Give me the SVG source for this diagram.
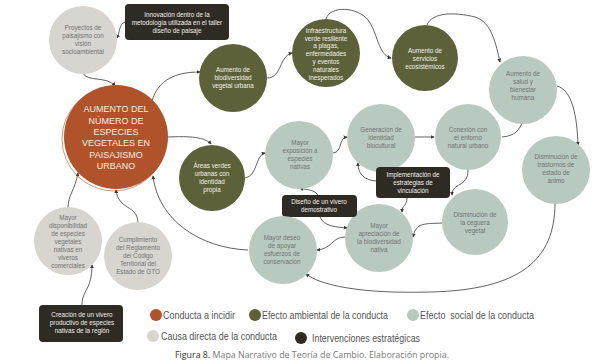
<svg xmlns="http://www.w3.org/2000/svg" width="602" height="364" viewBox="0 0 602 364">
<defs>
<marker id="ah" viewBox="0 0 6 6" refX="5" refY="3" markerWidth="4" markerHeight="4" markerUnits="userSpaceOnUse" orient="auto">
<path d="M0,0 L6,3 L0,6 Z" fill="#3a3a3a"/>
</marker>
<style>
.bg{fill:#ffffff}
.orange{fill:#B0532A}
.olive{fill:#5C6139}
.sage{fill:#B8CAC0}
.gray{fill:#D8D5D0}
.dark{fill:#2E2B24}
.t{font-family:"Liberation Sans",Arial,sans-serif;font-size:6.3px;text-anchor:middle}
.tg{fill:#727272}
.tw{fill:#F2F0E8}
.main{font-family:"Liberation Sans",Arial,sans-serif;font-size:9px;text-anchor:middle;fill:#F7EBE0}
.conn path{fill:none;stroke:#3a3a3a;stroke-width:0.8;marker-end:url(#ah)}
.leg{font-family:"Liberation Sans",Arial,sans-serif;font-size:10px;fill:#555555;white-space:pre}
.cap{font-family:"Open Sans","Liberation Sans",sans-serif;font-size:9px;fill:#7a7a7a}
</style>
</defs>
<rect class="bg" x="0" y="0" width="602" height="364"/>

<g id="connectors" class="conn">
<path d="M125,22 C119,24 120,32 117,38"/>
<path d="M83,73 C86,82 108,76 115,86"/>
<path d="M152,101 C158,80 175,72 200,72"/>
<path d="M267,78 C282,78 279,56 292,53"/>
<path d="M326,19 C330,5 358,7 368,20 C378,33 378,55 391,58"/>
<path d="M427,25 C432,12 455,12 475,17 C492,22 496,45 500,62"/>
<path d="M557,86 C572,90 577,115 578,145"/>
<path d="M555,203 C555,260 520,290 430,292 C360,294 320,285 306,274"/>
<path d="M168,137 C190,136 205,137 211,144"/>
<path d="M245,178 C258,176 255,155 265,153"/>
<path d="M333,153 C343,152 338,138 347,137"/>
<path d="M415,137 L434,137"/>
<path d="M502,137 C515,136 520,130 523,120"/>
<path d="M468,170 C468,188 452,182 452,195"/>
<path d="M442,223 C425,224 416,222 413,237"/>
<path d="M376,181 C365,180 358,175 358,163"/>
<path d="M407,198 C407,206 402,205 402,212"/>
<path d="M318,195 C314,189 305,190 300,188"/>
<path d="M320,217 C324,227 338,227 347,228"/>
<path d="M345,237 C332,237 332,249 317,250"/>
<path d="M248,250 C200,248 158,220 153,176"/>
<path d="M68,208 C68,195 75,190 78,173"/>
<path d="M138,223 C138,205 118,210 116,190"/>
<path d="M82,305 C82,290 92,290 92,265"/>
</g>

<g id="n-proyectos">
<circle class="gray" cx="83" cy="40" r="34"/>
<text class="t tg" x="83"><tspan x="83" y="30">Proyectos de</tspan><tspan x="83" y="38">paisajismo con</tspan><tspan x="83" y="46">visión</tspan><tspan x="83" y="54">socioambiental</tspan></text>
</g>

<g id="n-innovacion">
<rect class="dark" x="125" y="4" width="104" height="36" rx="4"/>
<text class="t tw"><tspan x="177" y="17.3">Innovación dentro de la</tspan><tspan x="177" y="25">metodología utilizada en el taller</tspan><tspan x="177" y="33">diseño de paisaje</tspan></text>
</g>

<g id="n-main">
<circle class="orange" cx="116" cy="137" r="52"/>
<circle cx="114" cy="139" r="52" fill="none" stroke="#B0532A" stroke-width="0.6"/>
<text class="main"><tspan x="116" y="112.2">AUMENTO DEL</tspan><tspan x="116" y="123.6">NÚMERO DE</tspan><tspan x="116" y="135">ESPECIES</tspan><tspan x="116" y="146.4">VEGETALES EN</tspan><tspan x="116" y="157.8">PAISAJISMO</tspan><tspan x="116" y="169.2">URBANO</tspan></text>
</g>

<g id="n-biodiversidad">
<circle class="olive" cx="233" cy="78" r="34"/>
<text class="t tw"><tspan x="233" y="72.3">Aumento de</tspan><tspan x="233" y="80.3">biodiversidad</tspan><tspan x="233" y="88.3">vegetal urbana</tspan></text>
</g>

<g id="n-infraestructura">
<circle class="olive" cx="326" cy="53" r="34"/>
<text class="t tw"><tspan x="326" y="32.8">Infraestructura</tspan><tspan x="326" y="40.6">verde resiliente</tspan><tspan x="326" y="48.4">a plagas,</tspan><tspan x="326" y="56.2">enfermedades</tspan><tspan x="326" y="64">y eventos</tspan><tspan x="326" y="71.8">naturales</tspan><tspan x="326" y="79.6">inesperados</tspan></text>
</g>

<g id="n-servicios">
<circle class="olive" cx="425" cy="58" r="33"/>
<text class="t tw"><tspan x="425" y="53">Aumento de</tspan><tspan x="425" y="61">servicios</tspan><tspan x="425" y="69">ecosistémicos</tspan></text>
</g>

<g id="n-salud">
<circle class="sage" cx="523" cy="90" r="34"/>
<text class="t tg"><tspan x="523" y="76">Aumento de</tspan><tspan x="523" y="84">salud y</tspan><tspan x="523" y="92">bienestar</tspan><tspan x="523" y="100">humana</tspan></text>
</g>

<g id="n-trastornos">
<circle class="sage" cx="556" cy="170" r="34"/>
<text class="t tg"><tspan x="556" y="159">Disminución de</tspan><tspan x="556" y="167">trastornos de</tspan><tspan x="556" y="175">estado de</tspan><tspan x="556" y="183">ánimo</tspan></text>
</g>

<g id="n-areas">
<circle class="olive" cx="212" cy="178" r="33"/>
<text class="t tw"><tspan x="212" y="168.3">Áreas verdes</tspan><tspan x="212" y="176.3">urbanas con</tspan><tspan x="212" y="184.3">identidad</tspan><tspan x="212" y="192.3">propia</tspan></text>
</g>

<g id="n-exposicion">
<circle class="sage" cx="299" cy="155" r="34"/>
<text class="t tg"><tspan x="300" y="145">Mayor</tspan><tspan x="300" y="153">exposición a</tspan><tspan x="300" y="161">especies</tspan><tspan x="300" y="169">nativas</tspan></text>
</g>

<g id="n-generacion">
<circle class="sage" cx="381" cy="138" r="34"/>
<text class="t tg"><tspan x="381" y="131.5">Generación de</tspan><tspan x="381" y="139.5">identidad</tspan><tspan x="381" y="147.5">biocultural</tspan></text>
</g>

<g id="n-conexion">
<circle class="sage" cx="468" cy="137" r="33"/>
<text class="t tg"><tspan x="468" y="131.5">Conexión con</tspan><tspan x="468" y="139.5">el entorno</tspan><tspan x="468" y="147.5">natural urbano</tspan></text>
</g>

<g id="n-implementacion">
<rect class="dark" x="376" y="167" width="74" height="31" rx="4"/>
<text class="t tw"><tspan x="413" y="176.5">Implementación de</tspan><tspan x="413" y="184.5">estrategias de</tspan><tspan x="413" y="192.5">vinculación</tspan></text>
</g>

<g id="n-ceguera">
<circle class="sage" cx="475" cy="222" r="33"/>
<text class="t tg"><tspan x="475" y="217.3">Disminución de</tspan><tspan x="475" y="225.3">la ceguera</tspan><tspan x="475" y="233.3">vegetal</tspan></text>
</g>

<g id="n-apreciacion">
<circle class="sage" cx="379" cy="238" r="34"/>
<text class="t tg"><tspan x="379" y="228.3">Mayor</tspan><tspan x="379" y="236.3">apreciación de</tspan><tspan x="379" y="244.3">la biodiversidad</tspan><tspan x="379" y="252.3">nativa</tspan></text>
</g>

<g id="n-diseno">
<rect class="dark" x="282" y="195" width="75" height="22" rx="4"/>
<text class="t tw"><tspan x="319" y="204">Diseño de un vivero</tspan><tspan x="319" y="212.3">demostrativo</tspan></text>
</g>

<g id="n-deseo">
<circle class="sage" cx="283" cy="250" r="34"/>
<text class="t tg"><tspan x="282" y="239.6">Mayor deseo</tspan><tspan x="282" y="247.8">de apoyar</tspan><tspan x="282" y="256">esfuerzos de</tspan><tspan x="282" y="264.2">conservación</tspan></text>
</g>

<g id="n-disponibilidad">
<circle class="gray" cx="68" cy="241" r="34"/>
<text class="t tg"><tspan x="68" y="219.6">Mayor</tspan><tspan x="68" y="227.6">disponibilidad</tspan><tspan x="68" y="235.6">de especies</tspan><tspan x="68" y="243.6">vegetales</tspan><tspan x="68" y="251.6">nativas en</tspan><tspan x="68" y="259.6">viveros</tspan><tspan x="68" y="267.6">comerciales</tspan></text>
</g>

<g id="n-cumplimiento">
<circle class="gray" cx="138" cy="256" r="34"/>
<text class="t tg"><tspan x="138" y="242.3">Cumplimiento</tspan><tspan x="138" y="250.3">del Reglamento</tspan><tspan x="138" y="258.3">del Código</tspan><tspan x="138" y="266.3">Territorial del</tspan><tspan x="138" y="274.3">Estado de GTO</tspan></text>
</g>

<g id="n-creacion">
<rect class="dark" x="39" y="305" width="84" height="37" rx="4"/>
<text class="t tw"><tspan x="82" y="317.3">Creación de un vivero</tspan><tspan x="82" y="325">productivo de especies</tspan><tspan x="82" y="333">nativas de la región</tspan></text>
</g>

<g id="legend">
<circle class="orange" cx="156" cy="315" r="6"/>
<text class="leg" x="163" y="318.5" textLength="72" lengthAdjust="spacingAndGlyphs">Conducta a incidir</text>
<circle class="olive" cx="255" cy="315" r="6"/>
<text class="leg" x="262" y="318.5" textLength="126" lengthAdjust="spacingAndGlyphs">Efecto ambiental de la conducta</text>
<circle class="sage" cx="413" cy="315" r="6"/>
<text class="leg" x="420" y="318.5" textLength="114" lengthAdjust="spacingAndGlyphs">Efecto  social de la conducta</text>
<circle class="gray" cx="153" cy="336" r="6"/>
<text class="leg" x="161" y="339.5" textLength="116" lengthAdjust="spacingAndGlyphs">Causa directa de la conducta</text>
<circle class="dark" cx="301" cy="338" r="6"/>
<text class="leg" x="312" y="341.5" textLength="108" lengthAdjust="spacingAndGlyphs">Intervenciones estratégicas</text>
</g>

<text class="cap" x="175" y="357.5" textLength="274" lengthAdjust="spacingAndGlyphs"><tspan fill="#333333">Figura 8.</tspan> Mapa Narrativo de Teoría de Cambio. Elaboración propia.</text>
</svg>
